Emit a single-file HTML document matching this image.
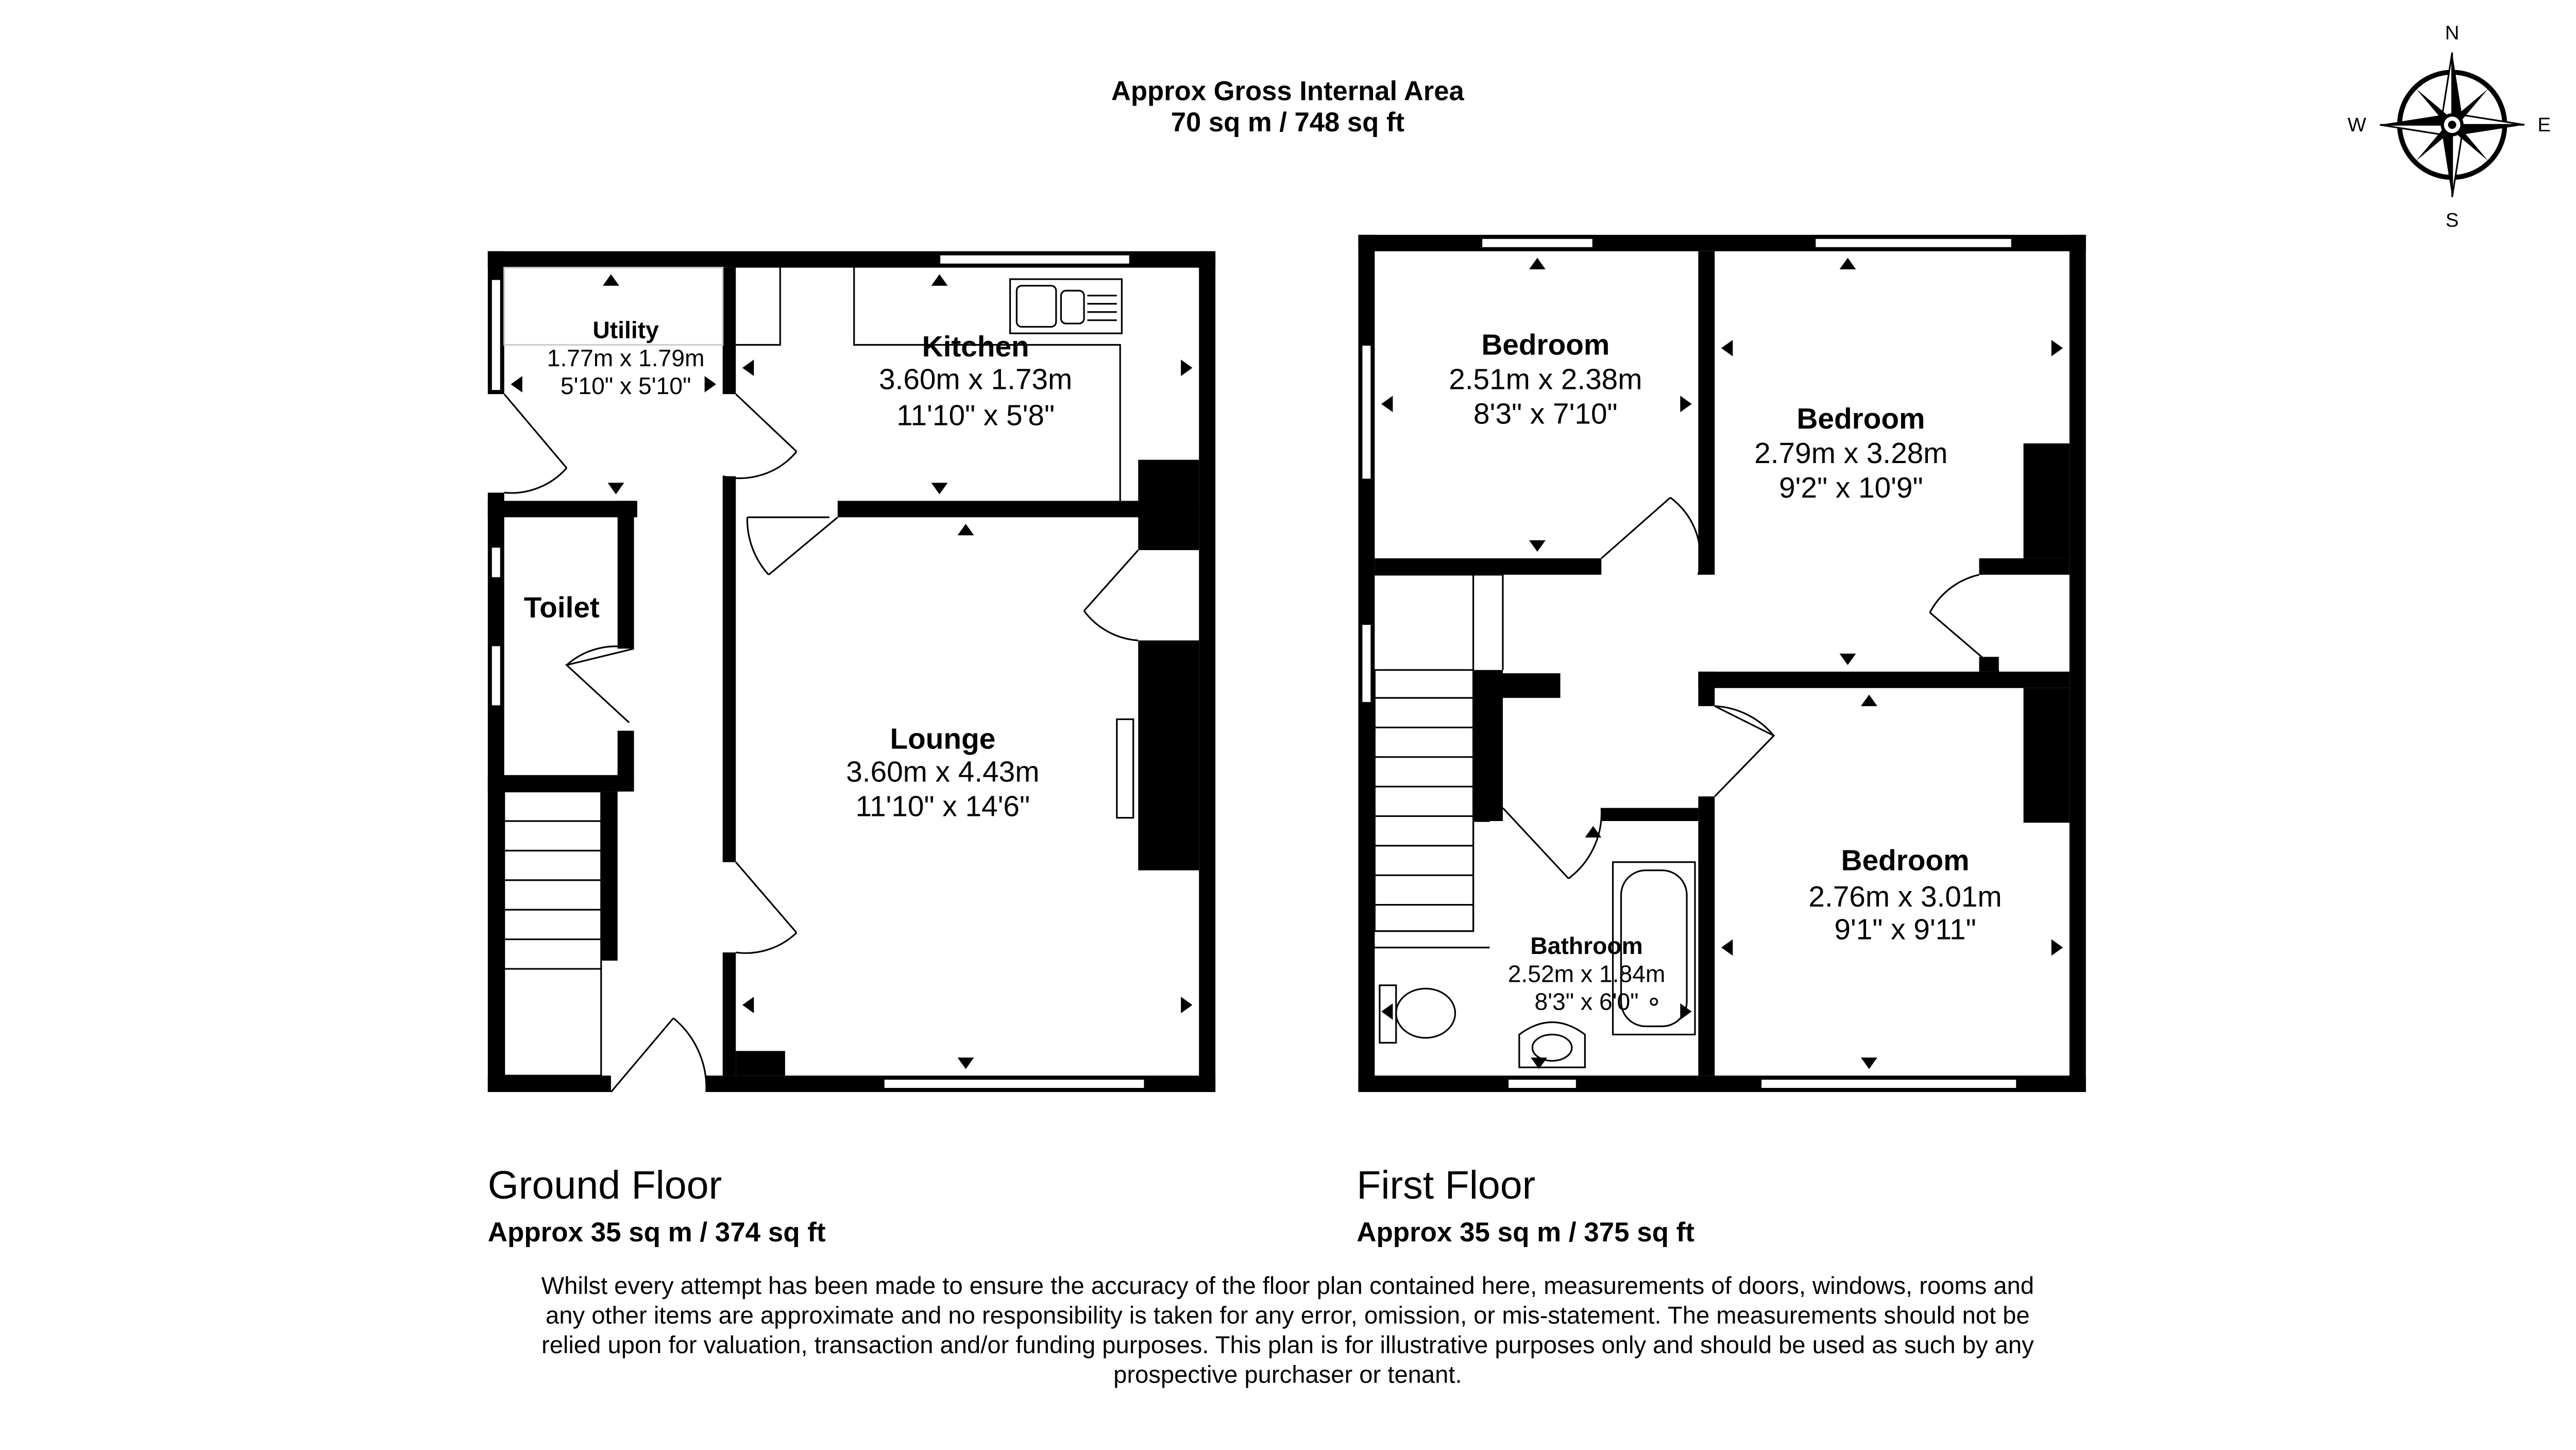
<!DOCTYPE html>
<html><head><meta charset="utf-8"><style>
html,body{margin:0;padding:0;background:#fff}
svg{display:block}
text{font-family:"Liberation Sans",Arial,sans-serif;fill:#000}
.b{font-weight:bold}
</style></head><body>
<svg width="5080" height="2815" viewBox="0 0 1593.5 883" preserveAspectRatio="none" xmlns="http://www.w3.org/2000/svg">
<rect width="1600" height="900" fill="#fff"/>
<text x="784" y="61" font-size="16.5" class="b" text-anchor="middle">Approx Gross Internal Area</text>
<text x="784" y="80" font-size="16.5" class="b" text-anchor="middle">70 sq m / 748 sq ft</text>

<g transform="translate(1493,76)">
<circle r="32" fill="none" stroke="#000" stroke-width="3"/>
<polygon points="0,-44 6,-6 0,0" fill="#000"/><polygon points="0,-44 -6,-6 0,0" fill="#fff" stroke="#000"/>
<polygon points="0,44 -6,6 0,0" fill="#000"/><polygon points="0,44 6,6 0,0" fill="#fff" stroke="#000"/>
<polygon points="44,0 6,6 0,0" fill="#000"/><polygon points="44,0 6,-6 0,0" fill="#fff" stroke="#000"/>
<polygon points="-44,0 -6,-6 0,0" fill="#000"/><polygon points="-44,0 -6,6 0,0" fill="#fff" stroke="#000"/>
<polygon points="22,-22 3,-6 0,0 6,-3" fill="#000"/><polygon points="-22,22 -3,6 0,0 -6,3" fill="#000"/>
<polygon points="-22,-22 -6,-3 0,0 -3,-6" fill="#000"/><polygon points="22,22 6,3 0,0 3,6" fill="#000"/>
<circle r="6" fill="#fff" stroke="#000" stroke-width="2"/><circle r="2.5" fill="#000"/>
<text x="0" y="-52" font-size="12" text-anchor="middle">N</text>
<text x="0" y="62" font-size="12" text-anchor="middle">S</text>
<text x="-58" y="4" font-size="12" text-anchor="middle">W</text>
<text x="56" y="4" font-size="12" text-anchor="middle">E</text>
</g>

<g fill="#000">
<rect x="297" y="153" width="443" height="10"/>
<rect x="730" y="153" width="10" height="512"/>
<rect x="297" y="655" width="75" height="10"/><rect x="430" y="655" width="310" height="10"/>
<rect x="297" y="153" width="10" height="87"/><rect x="297" y="300" width="10" height="365"/>
<rect x="440" y="163" width="8" height="77"/><rect x="440" y="290" width="8" height="235"/><rect x="440" y="580" width="8" height="75"/>
<rect x="510" y="305" width="220" height="10"/>
<rect x="693" y="280" width="37" height="55"/>
<rect x="693" y="390" width="37" height="140"/>
<rect x="297" y="305" width="91" height="10"/>
<rect x="376" y="305" width="10" height="90"/><rect x="376" y="445" width="10" height="37"/>
<rect x="297" y="472" width="89" height="10"/>
<rect x="366" y="482" width="10" height="103"/>
<rect x="448" y="640" width="30" height="15"/>
</g>
<g fill="#fff" stroke="#000" stroke-width="1">
<rect x="572" y="155" width="116" height="6"/>
<rect x="538" y="657" width="159" height="6"/>
<rect x="299" y="170" width="6" height="68"/>
<rect x="299" y="333" width="6" height="19"/>
<rect x="299" y="393" width="6" height="37"/>
</g>
<g fill="none" stroke="#000" stroke-width="1">
<rect x="307" y="482" width="59" height="173"/>
<line x1="307" y1="500" x2="366" y2="500"/><line x1="307" y1="518" x2="366" y2="518"/><line x1="307" y1="536" x2="366" y2="536"/><line x1="307" y1="554" x2="366" y2="554"/><line x1="307" y1="572" x2="366" y2="572"/><line x1="307" y1="590" x2="366" y2="590"/>
<path d="M307,240 L345,285 M345,285 A45,45 0 0 1 307,300"/>
<path d="M448,240 L485,275 M485,275 A45,45 0 0 1 440,290"/>
<path d="M455,315 L505,315 M510,315 L468,350 M468,350 A50,50 0 0 1 455,315"/>
<path d="M386,395 L345,405 L383,440 M345,405 A45,45 0 0 1 386,395"/>
<path d="M448,525 L485,568 M485,568 A45,45 0 0 1 448,580"/>
<path d="M372,665 L410,620 M410,620 A55,55 0 0 1 430,665"/>
<path d="M693,335 L660,372 M660,372 A45,45 0 0 0 693,390"/>
<path d="M448,210 L475,210 L475,163"/>
<path d="M520,163 L520,210 L682,210 L682,305"/>
<rect x="615" y="170" width="68" height="33"/>
<rect x="619" y="174" width="24" height="25" rx="3"/><rect x="646" y="177" width="14" height="20" rx="3"/>
<line x1="662" y1="180" x2="680" y2="180"/><line x1="662" y1="185" x2="680" y2="185"/><line x1="662" y1="190" x2="680" y2="190"/><line x1="662" y1="195" x2="680" y2="195"/>
<rect x="680" y="438" width="10" height="60"/>
<rect x="307" y="163" width="133" height="47" stroke="#ccc"/>
</g>
<g fill="#000">
<polygon points="372,167 377,174 367,174"/><polygon points="375,301 370,294 380,294"/>
<polygon points="311,234 318,229 318,239"/><polygon points="436,234 429,229 429,239"/>
<polygon points="572,167 577,174 567,174"/><polygon points="572,301 567,294 577,294"/>
<polygon points="452,224 459,219 459,229"/><polygon points="726,224 719,219 719,229"/>
<polygon points="588,319 593,326 583,326"/><polygon points="588,651 583,644 593,644"/>
<polygon points="452,612 459,607 459,617"/><polygon points="726,612 719,607 719,617"/>
</g>
<text x="381" y="206" font-size="14.5" class="b" text-anchor="middle">Utility</text>
<text x="381" y="223" font-size="14.5" text-anchor="middle">1.77m x 1.79m</text>
<text x="381" y="240" font-size="14.5" text-anchor="middle">5'10" x 5'10"</text>
<text x="594" y="217" font-size="17.8" class="b" text-anchor="middle">Kitchen</text>
<text x="594" y="237" font-size="17.8" text-anchor="middle">3.60m x 1.73m</text>
<text x="594" y="259" font-size="17.8" text-anchor="middle">11'10" x 5'8"</text>
<text x="342" y="376" font-size="17.8" class="b" text-anchor="middle">Toilet</text>
<text x="574" y="456" font-size="17.8" class="b" text-anchor="middle">Lounge</text>
<text x="574" y="476" font-size="17.8" text-anchor="middle">3.60m x 4.43m</text>
<text x="574" y="497" font-size="17.8" text-anchor="middle">11'10" x 14'6"</text>

<g fill="#000">
<rect x="827" y="143" width="443" height="10"/>
<rect x="1260" y="143" width="10" height="522"/>
<rect x="827" y="655" width="443" height="10"/>
<rect x="827" y="143" width="10" height="522"/>
<rect x="1034" y="153" width="10" height="197"/>
<rect x="837" y="340" width="138" height="10"/>
<rect x="1205" y="340" width="55" height="10"/>
<rect x="1232" y="270" width="28" height="70"/>
<rect x="1034" y="409" width="226" height="10"/>
<rect x="1034" y="409" width="10" height="21"/><rect x="1034" y="485" width="10" height="170"/>
<rect x="1232" y="419" width="28" height="82"/>
<rect x="975" y="492" width="59" height="8"/>
<rect x="897" y="408" width="18" height="92"/>
<rect x="915" y="410" width="35" height="15"/>
<rect x="1205" y="400" width="12" height="9"/>
</g>
<g fill="#fff" stroke="#000" stroke-width="1">
<rect x="902" y="145" width="68" height="6"/>
<rect x="1105" y="145" width="120" height="6"/>
<rect x="829" y="210" width="6" height="82"/>
<rect x="829" y="380" width="6" height="48"/>
<rect x="918" y="657" width="42" height="6"/>
<rect x="1072" y="657" width="156" height="6"/>
</g>
<g fill="none" stroke="#000" stroke-width="1">
<rect x="837" y="408" width="60" height="159"/>
<line x1="837" y1="425" x2="897" y2="425"/><line x1="837" y1="443" x2="897" y2="443"/><line x1="837" y1="461" x2="897" y2="461"/><line x1="837" y1="479" x2="897" y2="479"/><line x1="837" y1="497" x2="897" y2="497"/><line x1="837" y1="515" x2="897" y2="515"/><line x1="837" y1="533" x2="897" y2="533"/><line x1="837" y1="551" x2="897" y2="551"/>
<path d="M837,350 L915,350 L915,408 M897,350 L897,408 M837,567 L897,567 L897,500 L907,500"/>
<line x1="837" y1="577" x2="907" y2="577"/>
<path d="M975,340 L1017,303 M1017,303 A45,45 0 0 1 1034,350"/>
<path d="M1217,409 L1175,373 M1175,373 A45,45 0 0 1 1205,350"/>
<path d="M1044,430 L1080,448 L1044,485 M1044,430 A50,50 0 0 1 1080,448"/>
<path d="M915,492 L955,535 M955,535 A50,50 0 0 0 975,492"/>
<rect x="982" y="525" width="50" height="105"/>
<rect x="987" y="530" width="40" height="95" rx="15"/>
<circle cx="1007" cy="610" r="2"/>
<rect x="840" y="600" width="10" height="35"/><ellipse cx="868" cy="617" rx="18" ry="15"/>
<path d="M925,650 L925,630 Q945,615 965,630 L965,650 Z"/><ellipse cx="945" cy="638" rx="12" ry="8"/>
</g>
<g fill="#000">
<polygon points="936,157 941,164 931,164"/><polygon points="936,336 931,329 941,329"/>
<polygon points="841,246 848,241 848,251"/><polygon points="1030,246 1023,241 1023,251"/>
<polygon points="1125,157 1130,164 1120,164"/><polygon points="1125,405 1120,398 1130,398"/>
<polygon points="1048,212 1055,207 1055,217"/><polygon points="1256,212 1249,207 1249,217"/>
<polygon points="1138,423 1143,430 1133,430"/><polygon points="1138,651 1133,644 1143,644"/>
<polygon points="1048,577 1055,572 1055,582"/><polygon points="1256,577 1249,572 1249,582"/>
<polygon points="970,503 975,510 965,510"/><polygon points="937,651 932,644 942,644"/>
<polygon points="841,616 848,611 848,621"/><polygon points="1030,616 1023,611 1023,621"/>
</g>
<text x="941" y="216" font-size="17.8" class="b" text-anchor="middle">Bedroom</text>
<text x="941" y="237" font-size="17.8" text-anchor="middle">2.51m x 2.38m</text>
<text x="941" y="258" font-size="17.8" text-anchor="middle">8'3" x 7'10"</text>
<text x="1133" y="261" font-size="17.8" class="b" text-anchor="middle">Bedroom</text>
<text x="1127" y="282" font-size="17.8" text-anchor="middle">2.79m x 3.28m</text>
<text x="1127" y="303" font-size="17.8" text-anchor="middle">9'2" x 10'9"</text>
<text x="1160" y="530" font-size="17.8" class="b" text-anchor="middle">Bedroom</text>
<text x="1160" y="552" font-size="17.8" text-anchor="middle">2.76m x 3.01m</text>
<text x="1160" y="572" font-size="17.8" text-anchor="middle">9'1" x 9'11"</text>
<text x="966" y="581" font-size="14.5" class="b" text-anchor="middle">Bathroom</text>
<text x="966" y="598" font-size="14.5" text-anchor="middle">2.52m x 1.84m</text>
<text x="966" y="615" font-size="14.5" text-anchor="middle">8'3" x 6'0"</text>

<text x="297" y="730" font-size="24.2">Ground Floor</text>
<text x="297" y="756" font-size="16.6" class="b">Approx 35 sq m / 374 sq ft</text>
<text x="826" y="730" font-size="24.2">First Floor</text>
<text x="826" y="756" font-size="16.6" class="b">Approx 35 sq m / 375 sq ft</text>
<g font-size="14.8" text-anchor="middle">
<text x="784" y="788">Whilst every attempt has been made to ensure the accuracy of the floor plan contained here, measurements of doors, windows, rooms and</text>
<text x="784" y="806">any other items are approximate and no responsibility is taken for any error, omission, or mis-statement. The measurements should not be</text>
<text x="784" y="824">relied upon for valuation, transaction and/or funding purposes. This plan is for illustrative purposes only and should be used as such by any</text>
<text x="784" y="842">prospective purchaser or tenant.</text>
</g>
</svg>
</body></html>
